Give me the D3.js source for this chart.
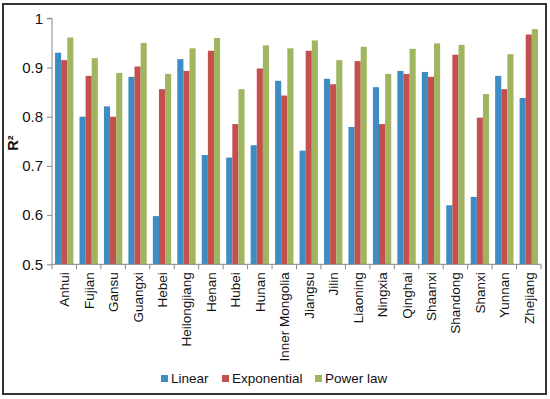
<!DOCTYPE html>
<html>
<head>
<meta charset="utf-8">
<script src="https://d3js.org/d3.v7.min.js"></script>
<style>
  body { margin: 0; background: #fff; }
  text { font-family: "Liberation Sans", Arial, sans-serif; fill: #111; }
</style>
</head>
<body>
<div id="chart"></div>
<script>
// provinces and R² of the three fits
var provinces = ["Anhui", "Fujian", "Gansu", "Guangxi", "Hebei", "Heilongjiang", "Henan", "Hubei",
  "Hunan", "Inner Mongolia", "Jiangsu", "Jilin", "Liaoning", "Ningxia", "Qinghai", "Shaanxi",
  "Shandong", "Shanxi", "Yunnan", "Zhejiang"];
var linear = [0.930, 0.800, 0.821, 0.881, 0.598, 0.917, 0.722, 0.717, 0.742, 0.873,
  0.731, 0.877, 0.779, 0.860, 0.893, 0.891, 0.620, 0.637, 0.883, 0.838];
var exponential = [0.915, 0.883, 0.800, 0.902, 0.856, 0.893, 0.934, 0.785, 0.898, 0.843,
  0.934, 0.866, 0.913, 0.785, 0.887, 0.881, 0.926, 0.798, 0.856, 0.967];
var powerLaw = [0.961, 0.919, 0.889, 0.950, 0.887, 0.939, 0.960, 0.856, 0.945, 0.939,
  0.955, 0.915, 0.942, 0.887, 0.938, 0.949, 0.946, 0.846, 0.927, 0.978];
var seriesNames = ["Linear", "Exponential", "Power law"];
var yTicks = [0.5, 0.6, 0.7, 0.8, 0.9, 1];

var colors = ["#3d8cc3", "#c4504e", "#9fb55f"];
var seriesData = [linear, exponential, powerLaw];

var svgWidth = 550, svgHeight = 399;
var plot = { left: 52, right: 541, top: 18.3, bottom: 264.3 };

var svg = d3.select("#chart").append("svg")
  .attr("width", svgWidth)
  .attr("height", svgHeight);

// outer frame
svg.append("rect")
  .attr("x", 3).attr("y", 4)
  .attr("width", 543).attr("height", 390)
  .attr("fill", "none")
  .attr("stroke", "#333")
  .attr("stroke-width", 2);

var xScale = d3.scaleBand()
  .domain(provinces)
  .range([plot.left, plot.right]);

var xInner = d3.scaleBand()
  .domain(seriesNames)
  .range([0, xScale.bandwidth()])
  .paddingOuter(0.5)
  .paddingInner(0);

var yScale = d3.scaleLinear()
  .domain([0.5, 1])
  .range([plot.bottom, plot.top]);

// bars
var groups = svg.selectAll("g.group")
  .data(provinces)
  .enter().append("g")
  .attr("class", "group")
  .attr("transform", function(d) { return "translate(" + xScale(d) + ",0)"; });

groups.selectAll("rect")
  .data(function(d, i) {
    return seriesNames.map(function(s, k) { return { s: s, k: k, v: seriesData[k][i] }; });
  })
  .enter().append("rect")
  .attr("x", function(d) { return xInner(d.s); })
  .attr("width", xInner.bandwidth())
  .attr("y", function(d) { return yScale(d.v); })
  .attr("height", function(d) { return plot.bottom - yScale(d.v); })
  .attr("fill", function(d) { return colors[d.k]; });

// y axis
var yAxis = d3.axisLeft(yScale)
  .tickValues(yTicks)
  .tickFormat(function(d) { return d === 1 ? "1" : d3.format(".1f")(d); })
  .tickSize(5)
  .tickPadding(4);

var yG = svg.append("g")
  .attr("transform", "translate(" + plot.left + ",0)")
  .call(yAxis);
yG.select(".domain").attr("stroke", "#888").attr("d", "M-5," + plot.top + "H0V" + plot.bottom);
yG.selectAll(".tick line").attr("stroke", "#888");
yG.selectAll(".tick text")
  .style("font-size", "15px")
  .attr("fill", "#111");

// x axis: line with ticks at group boundaries
var xG = svg.append("g");
xG.append("line")
  .attr("x1", plot.left).attr("x2", plot.right)
  .attr("y1", plot.bottom).attr("y2", plot.bottom)
  .attr("stroke", "#888");
xG.selectAll("line.tick")
  .data(provinces.concat(["end"]))
  .enter().append("line")
  .attr("class", "tick")
  .attr("x1", function(d, i) { return plot.left + i * xScale.bandwidth(); })
  .attr("x2", function(d, i) { return plot.left + i * xScale.bandwidth(); })
  .attr("y1", plot.bottom).attr("y2", plot.bottom + 5)
  .attr("stroke", "#888");

xG.selectAll("text.cat")
  .data(provinces)
  .enter().append("text")
  .attr("class", "cat")
  .attr("transform", function(d) {
    return "translate(" + (xScale(d) + xScale.bandwidth() / 2 + 5) + "," + (plot.bottom + 8) + ")rotate(-90)";
  })
  .attr("text-anchor", "end")
  .style("font-size", "13.5px")
  .text(function(d) { return d; });

// y label
svg.append("text")
  .attr("transform", "translate(18,143)rotate(-90)")
  .attr("text-anchor", "middle")
  .style("font-size", "14.5px")
  .style("font-weight", "bold")
  .text("R²");

// legend
var legendX = [161, 222, 315];
var legend = svg.selectAll("g.legend")
  .data(seriesNames)
  .enter().append("g")
  .attr("class", "legend")
  .attr("transform", function(d, i) { return "translate(" + legendX[i] + ",383)"; });
legend.append("rect")
  .attr("x", 0).attr("y", -8)
  .attr("width", 7).attr("height", 7)
  .attr("fill", function(d, i) { return colors[i]; });
legend.append("text")
  .attr("x", 10).attr("y", 0)
  .style("font-size", "13.5px")
  .text(function(d) { return d; });
</script>
</body>
</html>
